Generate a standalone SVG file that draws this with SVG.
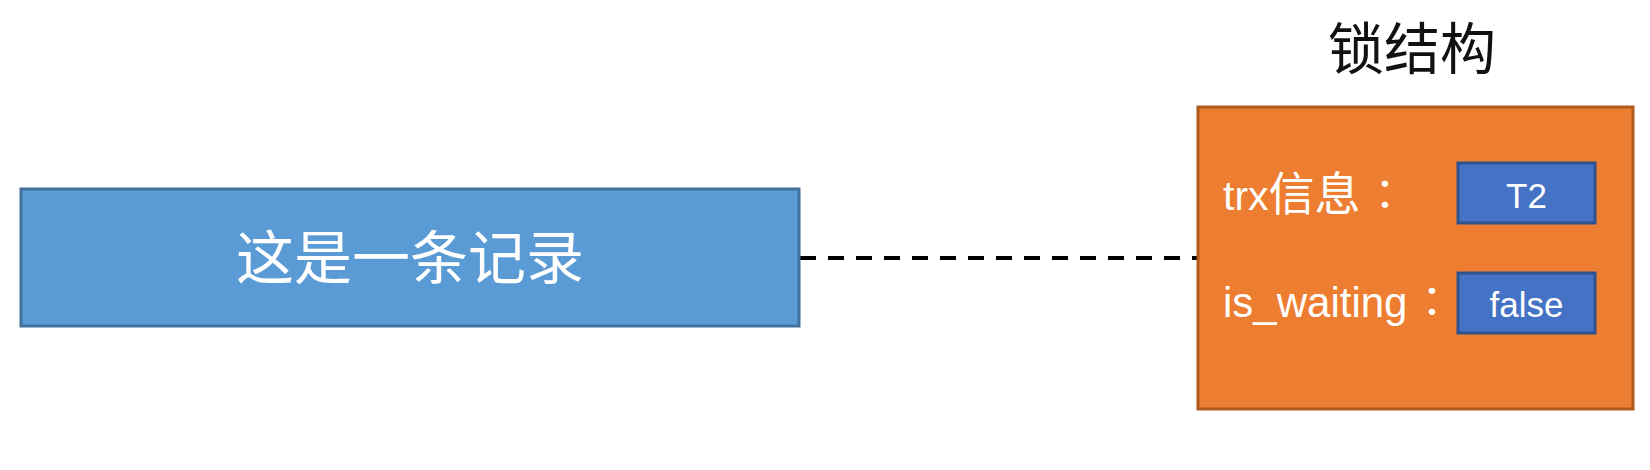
<svg xmlns="http://www.w3.org/2000/svg" width="1650" height="470" viewBox="0 0 1650 470">
  <style>
    .cjk { font-family: "Noto Sans CJK SC", sans-serif; }
    .lat { font-family: "Liberation Sans", "Noto Sans CJK SC", sans-serif; }
    .white { fill: #ffffff; }
    .record { fill: #5B9BD5; stroke: #41719C; stroke-width: 3; }
    .lock { fill: #ED7D31; stroke: #AE5A21; stroke-width: 3; }
    .val { fill: #4472C4; stroke: #2F528F; stroke-width: 3; }
    .conn { stroke: #000000; stroke-width: 4; stroke-dasharray: 16 12; fill: none; }
  </style>
  <rect x="0" y="0" width="1650" height="470" fill="#ffffff"/>

  <g id="connectors">
    <line class="conn" x1="800" y1="258" x2="1197" y2="258"/>
  </g>

  <g id="record">
    <rect class="record" x="21" y="189" width="778" height="137"/>
    <text class="cjk white" x="410" y="279" font-size="58" text-anchor="middle">这是一条记录</text>
  </g>

  <g id="lock-title">
    <text class="cjk" x="1412" y="69" font-size="56" text-anchor="middle" fill="#111111">锁结构</text>
  </g>

  <g id="lock">
    <rect class="lock" x="1198" y="107" width="435" height="302"/>
    <text class="white" x="1223" y="210"><tspan class="lat" font-size="41">trx</tspan><tspan class="cjk" font-size="46">信息</tspan></text>
    <text class="white" x="1385" y="210" font-size="42" text-anchor="middle" font-family="Noto Sans CJK TC, sans-serif">：</text>
    <text class="lat white" x="1223" y="317" font-size="42">is_waiting</text>
    <text class="white" x="1432" y="317" font-size="42" text-anchor="middle" font-family="Noto Sans CJK TC, sans-serif">：</text>
  </g>

  <g id="trx-value">
    <rect class="val" x="1458" y="163" width="137" height="60"/>
    <text class="lat white" x="1526.5" y="208" font-size="35" text-anchor="middle">T2</text>
  </g>

  <g id="waiting-value">
    <rect class="val" x="1458" y="273" width="137" height="60"/>
    <text class="lat white" x="1526.5" y="317" font-size="35" text-anchor="middle">false</text>
  </g>
</svg>
